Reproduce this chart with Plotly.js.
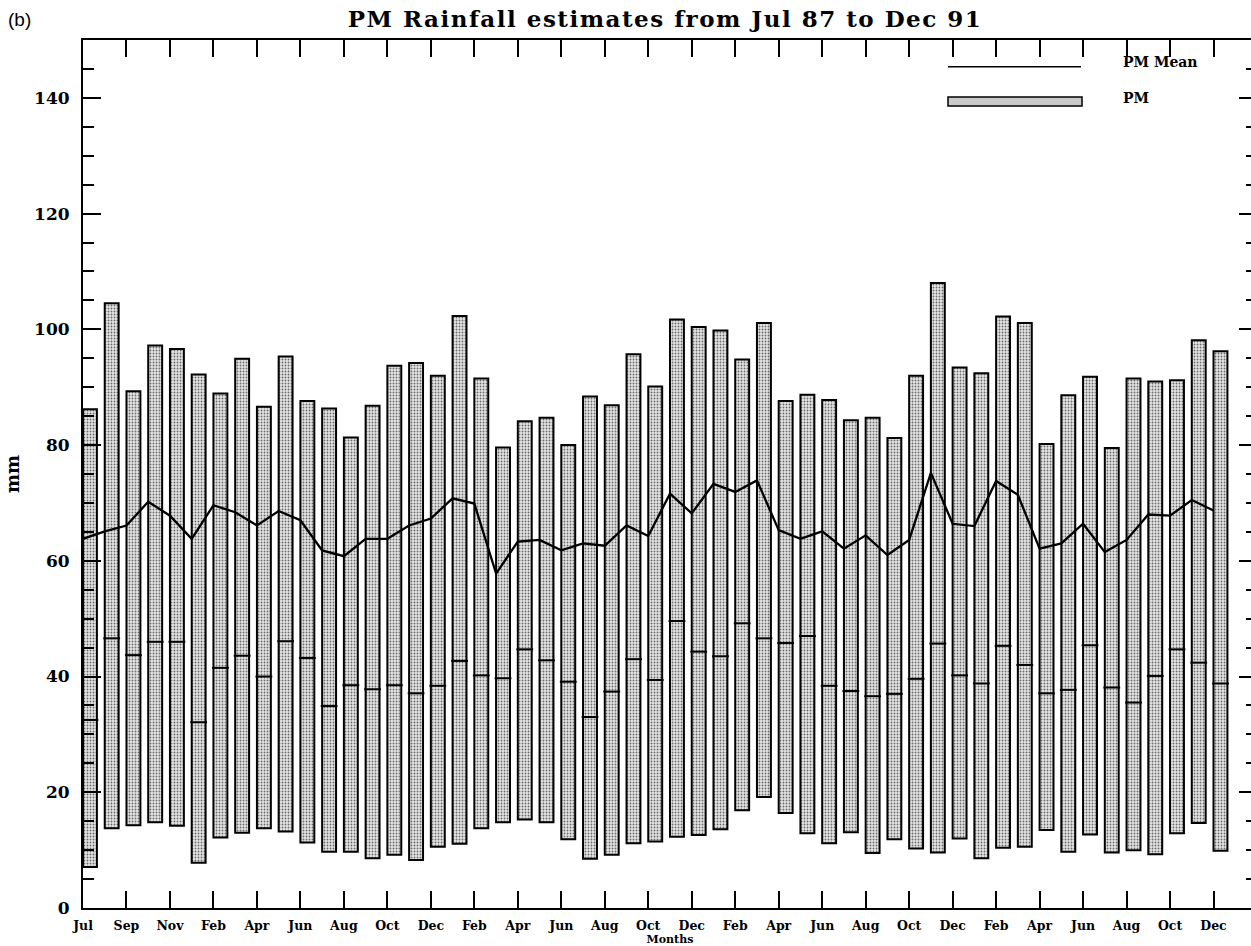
<!DOCTYPE html>
<html>
<head>
<meta charset="utf-8">
<script src="https://cdn.plot.ly/plotly-3.0.1.min.js"></script>
<style>
html, body { margin: 0; padding: 0; background: #fff; overflow: hidden; }
#chart { width: 1262px; height: 946px; }
#chart .gtitle { letter-spacing: 1.5px; }
</style>
</head>
<body>
<div id="chart"></div>
<script>
// Months Jul 87 .. Dec 91 (one month missing in the record after Nov 87)
const months = ["Jul 87","Aug 87","Sep 87","Oct 87","Nov 87","Dec 87",
  "Feb 88","Mar 88","Apr 88","May 88","Jun 88","Jul 88","Aug 88","Sep 88","Oct 88","Nov 88","Dec 88",
  "Jan 89","Feb 89","Mar 89","Apr 89","May 89","Jun 89","Jul 89","Aug 89","Sep 89","Oct 89","Nov 89","Dec 89",
  "Jan 90","Feb 90","Mar 90","Apr 90","May 90","Jun 90","Jul 90","Aug 90","Sep 90","Oct 90","Nov 90","Dec 90",
  "Jan 91","Feb 91","Mar 91","Apr 91","May 91","Jun 91","Jul 91","Aug 91","Sep 91","Oct 91","Nov 91","Dec 91"];

const pmMax = [86.2,104.5,89.3,97.2,96.6,92.2,88.9,94.9,86.6,95.3,87.6,86.3,81.3,86.8,93.7,94.2,92.0,102.3,91.5,79.6,
  84.1,84.7,80.0,88.4,86.9,95.7,90.1,101.7,100.4,99.8,94.8,101.1,87.6,88.7,87.8,84.3,84.7,81.2,92.0,108.0,
  93.4,92.4,102.2,101.1,80.2,88.6,91.8,79.5,91.5,91.0,91.2,98.1,96.2];

const pmMin = [7.1,13.8,14.3,14.8,14.2,7.8,12.2,13.0,13.8,13.2,11.3,9.7,9.7,8.6,9.2,8.3,10.6,11.1,13.8,14.8,
  15.3,14.8,11.9,8.5,9.2,11.2,11.5,12.3,12.6,13.6,16.9,19.2,16.4,12.9,11.2,13.1,9.5,11.9,10.3,9.6,
  12.0,8.6,10.4,10.6,13.5,9.7,12.7,9.6,10.0,9.3,12.9,14.7,9.9];

const pmMid = [32.5,46.6,43.7,46.0,46.0,32.1,41.5,43.6,40.0,46.1,43.2,34.9,38.5,37.8,38.5,37.1,38.4,42.7,40.2,39.7,
  44.7,42.8,39.1,33.0,37.4,43.0,39.4,49.6,44.3,43.5,49.2,46.6,45.8,47.0,38.4,37.5,36.6,37.0,39.6,45.7,
  40.2,38.8,45.3,42.0,37.1,37.7,45.4,38.1,35.5,40.1,44.7,42.4,38.8];

const pmMean = [63.8,65.1,66.1,70.2,67.8,63.8,69.6,68.4,66.1,68.6,67.0,61.8,60.8,63.8,63.8,66.1,67.3,70.8,69.9,57.8,
  63.3,63.6,61.8,63.0,62.6,66.1,64.3,71.6,68.2,73.3,71.9,73.9,65.3,63.8,65.1,62.1,64.4,61.0,63.6,75.2,
  66.4,66.0,73.8,71.4,62.1,63.0,66.4,61.5,63.6,68.0,67.8,70.5,68.7];

const tickLabels = ["Jul","Sep","Nov","Feb","Apr","Jun","Aug","Oct","Dec","Feb","Apr","Jun","Aug","Oct",
  "Dec","Feb","Apr","Jun","Aug","Oct","Dec","Feb","Apr","Jun","Aug","Oct","Dec"];
const yTicks = [0,20,40,60,80,100,120,140];

const idx = months.map((m, i) => i);
const barW = 0.64;

const bars = {
  type: 'bar', name: 'PM', x: idx, base: pmMin,
  y: pmMax.map((v, i) => v - pmMin[i]),
  customdata: months,
  offset: 0, width: barW,
  marker: {
    color: '#d6d6d6',
    line: {color: '#000', width: 2},
    pattern: {shape: '.', fgcolor: '#6a6a6a', bgcolor: '#e6e6e6', size: 3, solidity: 0.3}
  },
  showlegend: false, hoverinfo: 'skip'
};
const meanLine = {
  type: 'scatter', mode: 'lines', name: 'PM Mean', x: idx, y: pmMean,
  line: {color: '#000', width: 2.3}, showlegend: false, hoverinfo: 'skip'
};
const midMarks = {
  type: 'scatter', mode: 'markers', name: 'PM middle', x: idx.map(i => i + barW / 2), y: pmMid,
  marker: {symbol: 'line-ew', size: 12, color: '#000', line: {color: '#000', width: 2}},
  showlegend: false, hoverinfo: 'skip'
};

const L = 83, W = 1262, R = 5, T = 40, B = 38, H = 946;
const PW = W - L - R, PH = H - T - B;
const px = x => (x - L) / PW;
const py = y => (H - B - y) / PH;

const serif = 'DejaVu Serif, Liberation Serif, serif';

const layout = {
  width: W, height: H,
  margin: {l: L, r: R, t: T, b: B, pad: 0},
  paper_bgcolor: '#fff', plot_bgcolor: '#fff',
  showlegend: false,
  title: {
    text: 'PM Rainfall estimates from Jul 87 to Dec 91',
    font: {family: serif, size: 23, color: '#000', weight: 'bold'},
    x: 665 / W, xref: 'container', xanchor: 'center',
    y: 1 - 19 / H, yref: 'container', yanchor: 'middle'
  },
  xaxis: {
    range: [0, 54], showgrid: false, zeroline: false,
    showline: true, linecolor: '#000', linewidth: 2, mirror: 'allticks',
    ticks: 'inside', ticklen: 17, tickwidth: 2, tickcolor: '#000',
    tickmode: 'array', tickvals: tickLabels.map((t, k) => 2 * k), ticktext: tickLabels,
    tickfont: {family: serif, size: 12.5, color: '#000', weight: 'bold'},
    ticklabelstandoff: 5,
    title: {text: 'Months', font: {family: serif, size: 11, color: '#000', weight: 'bold'}, standoff: 0}
  },
  yaxis: {
    range: [0, 150], showgrid: false, zeroline: false,
    showline: true, linecolor: '#000', linewidth: 2, mirror: 'allticks',
    ticks: 'inside', ticklen: 18, tickwidth: 2, tickcolor: '#000',
    tickmode: 'array', tickvals: yTicks,
    tickfont: {family: serif, size: 17, color: '#000', weight: 'bold'},
    ticklabelstandoff: 8,
    minor: {dtick: 5, ticks: 'inside', ticklen: 11, tickwidth: 2, tickcolor: '#000', showgrid: false},
    title: {text: 'mm', font: {family: serif, size: 18, color: '#000', weight: 'bold'}, standoff: 10}
  },
  shapes: [
    {type: 'line', xref: 'paper', yref: 'paper', x0: px(948), x1: px(1081), y0: py(66.7), y1: py(66.7),
     line: {color: '#000', width: 1.5}},
    {type: 'rect', xref: 'paper', yref: 'paper', x0: px(948), x1: px(1082), y0: py(106), y1: py(97),
     fillcolor: '#cacaca', line: {color: '#000', width: 1.5}}
  ],
  annotations: [
    {text: 'PM Mean', xref: 'paper', yref: 'paper', x: px(1121), y: py(62), xanchor: 'left', yanchor: 'middle',
     showarrow: false, font: {family: serif, size: 14, color: '#000', weight: 'bold'}},
    {text: 'PM', xref: 'paper', yref: 'paper', x: px(1121), y: py(98), xanchor: 'left', yanchor: 'middle',
     showarrow: false, font: {family: serif, size: 14, color: '#000', weight: 'bold'}},
    {text: '(b)', xref: 'paper', yref: 'paper', x: px(6), y: py(19), xanchor: 'left', yanchor: 'middle',
     showarrow: false, font: {family: 'Liberation Sans, Arial, sans-serif', size: 19, color: '#000'}}
  ]
};

Plotly.newPlot('chart', [bars, meanLine, midMarks], layout, {staticPlot: true, displayModeBar: false});
</script>
</body>
</html>
